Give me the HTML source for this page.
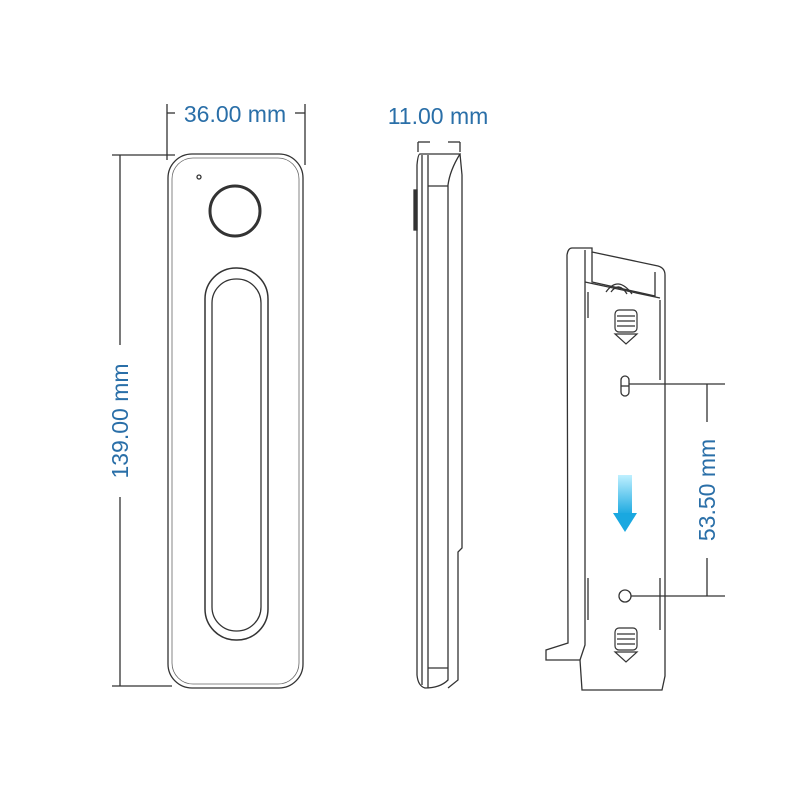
<!DOCTYPE html>
<html><head><style>body{margin:0;background:#fff}svg{display:block}</style></head><body>
<svg width="800" height="800" viewBox="0 0 800 800" xmlns="http://www.w3.org/2000/svg" font-family="Liberation Sans, sans-serif">
<defs><linearGradient id="g" x1="0" y1="0" x2="0" y2="1"><stop offset="0" stop-color="#bff0ff"/><stop offset="1" stop-color="#1aa8e0"/></linearGradient></defs>
<g fill="none" stroke="#333" stroke-width="1.3">
<rect x="168" y="154" width="135" height="534" rx="24"/>
<rect x="172" y="158" width="127" height="526" rx="21" stroke="#666" stroke-width="0.8"/>
<circle cx="199" cy="177" r="2"/>
<circle cx="235" cy="211" r="25" stroke-width="3"/>
<rect x="205" y="268" width="63" height="372" rx="31" stroke-width="1.5"/>
<rect x="212" y="279" width="49" height="352" rx="24"/>
<line x1="112" y1="155" x2="175" y2="155"/><line x1="112" y1="686" x2="172" y2="686"/>
<line x1="120" y1="155" x2="120" y2="345"/><line x1="120" y1="497" x2="120" y2="686"/>
<line x1="167" y1="104" x2="167" y2="160"/><line x1="305" y1="104" x2="305" y2="165"/>
<line x1="167" y1="113" x2="175" y2="113"/><line x1="295" y1="113" x2="305" y2="113"/>
<path d="M420 154 L460 154 Q450 170 448 185 L448 680 Q440 688 425 688 Q418 686 417 675 L417 165 Q418 154 420 154Z"/>
<line x1="422" y1="155" x2="422" y2="685"/><line x1="428" y1="155" x2="428" y2="688"/>
<line x1="428" y1="186" x2="448" y2="186"/><line x1="428" y1="668" x2="448" y2="668"/>
<path d="M460 154 L462 175 L462 548 L458 552 L458 680 L448 688"/>
<rect x="414" y="190" width="3" height="40" fill="#333"/>
<line x1="418" y1="142" x2="418" y2="152"/><line x1="460" y1="142" x2="460" y2="152"/>
<line x1="418" y1="142" x2="430" y2="142"/><line x1="448" y1="142" x2="460" y2="142"/>
<path d="M572 248 L592 248 L592 252 L658 266 Q665 268 665 275 L665 676 L662 690 L582 690 L580 660 L546 660 L546 650 L568 643 L567 255 Q568 248 572 248Z"/>
<path d="M585 250 L585 645 L580 660"/>
<path d="M592 252 L592 282 L655 296 L655 272"/>
<line x1="585" y1="282" x2="660" y2="298"/>
<path d="M606 292 Q618 275 632 294"/><path d="M611 292 Q619 281 627 294"/>
<line x1="588" y1="292" x2="588" y2="318"/><line x1="660" y1="300" x2="660" y2="380"/>
<line x1="588" y1="578" x2="588" y2="620"/><line x1="660" y1="578" x2="660" y2="630"/>
<g stroke-width="1.2">
<rect x="615" y="310" width="22" height="22" rx="4"/><line x1="617" y1="316" x2="635" y2="316"/><line x1="617" y1="321" x2="635" y2="321"/><line x1="617" y1="326" x2="635" y2="326"/>
<path d="M615 334 L637 334 L626 344Z"/>
<rect x="615" y="628" width="22" height="22" rx="4"/><line x1="617" y1="634" x2="635" y2="634"/><line x1="617" y1="639" x2="635" y2="639"/><line x1="617" y1="644" x2="635" y2="644"/>
<path d="M615 652 L637 652 L626 662Z"/>
</g>
<rect x="621" y="376" width="8" height="20" rx="4"/><line x1="621" y1="386" x2="629" y2="386"/>
<circle cx="625" cy="596" r="6"/>
<line x1="629" y1="384" x2="725" y2="384"/><line x1="631" y1="596" x2="725" y2="596"/>
<line x1="707" y1="384" x2="707" y2="422"/><line x1="707" y1="558" x2="707" y2="596"/>
</g>
<rect x="618" y="475" width="14" height="40" fill="url(#g)"/>
<path d="M613 513 L637 513 L625 532Z" fill="#1aa8e0"/>
<g fill="#2a6fa8" font-size="23">
<text x="235" y="122" text-anchor="middle">36.00 mm</text>
<text x="438" y="124" text-anchor="middle">11.00 mm</text>
<text transform="translate(128 421) rotate(-90)" text-anchor="middle">139.00 mm</text>
<text transform="translate(715 490) rotate(-90)" text-anchor="middle">53.50 mm</text>
</g>
</svg>
</body></html>
